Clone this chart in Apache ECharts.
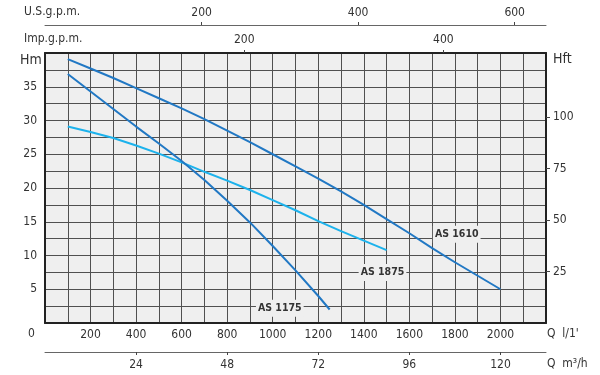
<!DOCTYPE html>
<html>
<head>
<meta charset="utf-8">
<script src="https://cdn.jsdelivr.net/npm/echarts@6/dist/echarts.min.js"></script>
<style>
html,body{margin:0;padding:0;background:#fff;}
#chart{width:600px;height:375px;}
</style>
</head>
<body>
<div id="chart"></div>
<script>
// ---- data (flow Q in l/min, head H in m) ----
const as1610Flow = [100,200,300,400,500,600,700,800,900,1000,1100,1200,1300,1400,1500,1600,1700,1800,1900,2000];
const as1610Head = [39.1,37.7,36.3,34.8,33.3,31.8,30.2,28.5,26.8,25.0,23.2,21.4,19.5,17.5,15.4,13.3,11.1,9.0,7.0,5.0];

const as1875Flow = [100,200,300,400,500,600,700,800,900,1000,1100,1200,1300,1400,1500];
const as1875Head = [29.1,28.3,27.4,26.3,25.1,23.8,22.4,21.1,19.7,18.2,16.7,15.1,13.6,12.2,10.8];

const as1175Flow = [100,200,300,400,500,600,700,800,900,1000,1100,1200,1250];
const as1175Head = [36.9,34.3,31.7,29.1,26.6,24.0,21.2,18.1,14.9,11.4,7.8,4.0,2.0];

const seriesNames = ['AS 1610','AS 1875','AS 1175'];

// ---- tick labels ----
const qLpmTicks = [200,400,600,800,1000,1200,1400,1600,1800,2000];
const qM3hTicks = [24,48,72,96,120];
const impGpmTicks = [200,400];
const usGpmTicks = [200,400,600];
const hmTicks = [5,10,15,20,25,30,35];
const hftTicks = [25,50,75,100];

const pairs = (xs, ys) => xs.map((x, i) => [x, ys[i]]);

const FONT = 'DejaVu Sans Condensed';
const TXT = '#333333';
const lbl = {color: TXT, fontFamily: FONT, fontSize: 12, formatter: v => String(v)};

const chart = echarts.init(document.getElementById('chart'), null, {renderer: 'canvas'});

const seriesLabel = (name, coord) => ({
  symbol: 'rect', symbolSize: 1, itemStyle: {color: 'rgba(0,0,0,0)'},
  data: [{coord: coord, value: name}],
  label: {show: true, position: 'inside', formatter: name, color: '#333', fontFamily: FONT,
          fontSize: 10.5, fontWeight: 'bold', backgroundColor: '#efefef', padding: [3, 2]}
});

const option = {
  animation: false,
  backgroundColor: '#ffffff',
  grid: {left: 45, right: 54, top: 53, bottom: 52, show: true, backgroundColor: '#efefef', borderWidth: 0},
  xAxis: [
    { // Q l/min
      type: 'value', position: 'bottom', min: 0, max: 2200, interval: 100,
      axisLine: {show: true, onZero: false, lineStyle: {color: '#222', width: 2}},
      axisTick: {show: false},
      axisLabel: Object.assign({customValues: qLpmTicks, margin: 6}, lbl),
      splitLine: {show: true, lineStyle: {color: '#505050', width: 1}}
    },
    { // Q m3/h
      type: 'value', position: 'bottom', offset: 29, min: 0, max: 132,
      axisLine: {show: true, onZero: false, lineStyle: {color: '#666', width: 1}},
      axisTick: {show: true, customValues: qM3hTicks, length: 3, lineStyle: {color: '#444'}},
      axisLabel: Object.assign({customValues: qM3hTicks, margin: 7}, lbl),
      splitLine: {show: false}
    },
    { // Imp gpm
      type: 'value', position: 'top', min: 0, max: 503,
      axisLine: {show: true, onZero: false, lineStyle: {color: '#222', width: 2}},
      axisTick: {show: true, customValues: impGpmTicks, length: 3, lineStyle: {color: '#444'}},
      axisLabel: Object.assign({customValues: impGpmTicks, margin: 7}, lbl),
      splitLine: {show: false}
    },
    { // US gpm
      type: 'value', position: 'top', offset: 28, min: 0, max: 640,
      axisLine: {show: true, onZero: false, lineStyle: {color: '#666', width: 1}},
      axisTick: {show: true, customValues: usGpmTicks, length: 3, lineStyle: {color: '#444'}},
      axisLabel: Object.assign({customValues: usGpmTicks, margin: 6}, lbl),
      splitLine: {show: false}
    }
  ],
  yAxis: [
    { // Hm
      type: 'value', position: 'left', min: 0, max: 40, interval: 2.5,
      axisLine: {show: true, onZero: false, lineStyle: {color: '#222', width: 2}},
      axisTick: {show: false},
      axisLabel: Object.assign({customValues: hmTicks, margin: 8}, lbl),
      splitLine: {show: true, lineStyle: {color: '#505050', width: 1}}
    },
    { // Hft
      type: 'value', position: 'right', min: 0, max: 40 * 3.28084,
      axisLine: {show: true, onZero: false, lineStyle: {color: '#222', width: 2}},
      axisTick: {show: true, customValues: hftTicks, length: 4, lineStyle: {color: '#444'}},
      axisLabel: Object.assign({customValues: hftTicks, margin: 7}, lbl),
      splitLine: {show: false}
    }
  ],
  series: [
    {
      name: seriesNames[0], type: 'line', xAxisIndex: 0, yAxisIndex: 0,
      data: pairs(as1610Flow, as1610Head), symbol: 'none',
      lineStyle: {color: '#2178c4', width: 2},
      markPoint: seriesLabel(seriesNames[0], [1808, 13.15])
    },
    {
      name: seriesNames[1], type: 'line', xAxisIndex: 0, yAxisIndex: 0,
      data: pairs(as1875Flow, as1875Head), symbol: 'none',
      lineStyle: {color: '#1cb2ec', width: 2},
      markPoint: seriesLabel(seriesNames[1], [1482, 7.5])
    },
    {
      name: seriesNames[2], type: 'line', xAxisIndex: 0, yAxisIndex: 0,
      data: pairs(as1175Flow, as1175Head), symbol: 'none',
      lineStyle: {color: '#2178c4', width: 2},
      markPoint: seriesLabel(seriesNames[2], [1031, 2.2])
    }
  ],
  graphic: [
    {type: 'text', left: 24, top: 6, style: {text: 'U.S.g.p.m.', fill: TXT, font: '12px "' + FONT + '"'}},
    {type: 'text', left: 24, top: 33, style: {text: 'Imp.g.p.m.', fill: TXT, font: '12px "' + FONT + '"'}},
    {type: 'text', left: 20, top: 53, style: {text: 'Hm', fill: TXT, font: '14px "' + FONT + '"'}},
    {type: 'text', left: 28, top: 328, style: {text: '0', fill: TXT, font: '12px "' + FONT + '"'}},
    {type: 'text', left: 553, top: 52, style: {text: 'Hft', fill: TXT, font: '14px "' + FONT + '"'}},
    {type: 'text', left: 547, top: 328, style: {text: "Q  l/1'", fill: TXT, font: '12px "' + FONT + '"'}},
    {type: 'text', left: 547, top: 358, style: {text: 'Q  m³/h', fill: TXT, font: '12px "' + FONT + '"'}}
  ]
};

chart.setOption(option);
</script>
</body>
</html>
